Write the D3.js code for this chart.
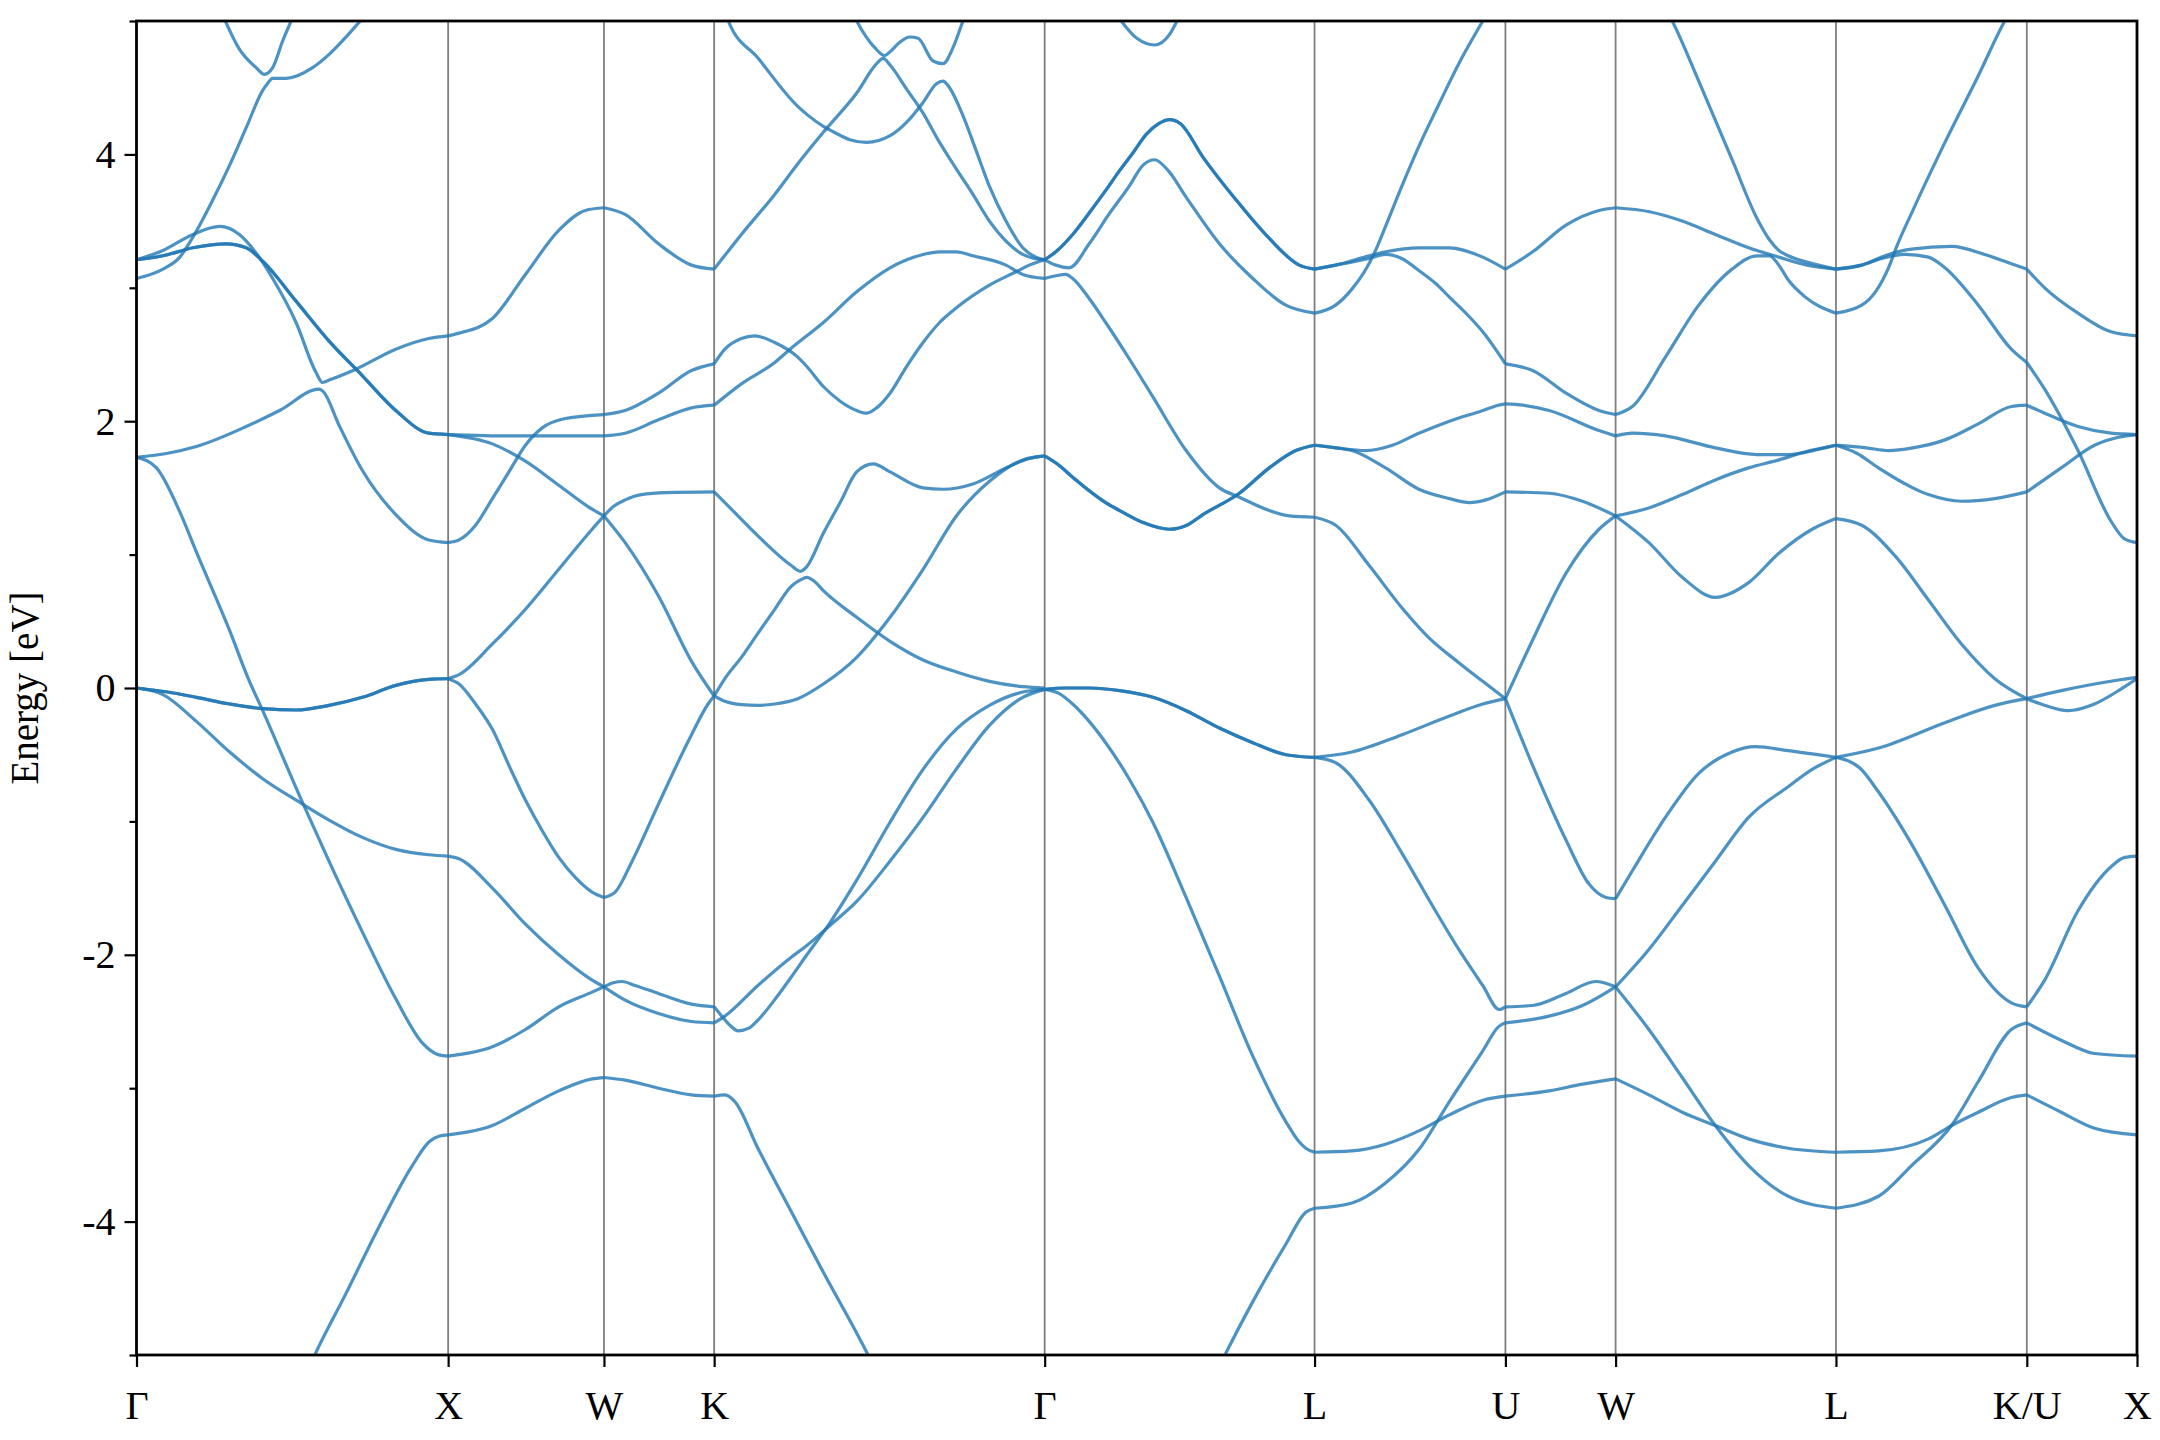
<!DOCTYPE html>
<html><head><meta charset="utf-8">
<script src="https://cdn.jsdelivr.net/npm/d3@7"></script>
<style>body{margin:0;background:#fff}</style>
</head><body>
<svg id="chart" width="2160" height="1440"></svg>
<script>
// ---------- data ----------
const kLabels = ["Γ","X","W","K","Γ","L","U","W","L","K/U","X"];
const kTicks  = [0, 1, 1.5, 1.8536, 2.9142, 3.7802, 4.3926, 4.7462, 5.4533, 6.0657, 6.4193];
const yMajor  = [-4, -2, 0, 2, 4];
const yMinor  = [-5, -3, -1, 1, 3, 5];
const yLabel  = "Energy [eV]";

// bands, per path segment: each band is a list of [k, E(eV)]
const segGX = [
  [[0,1.73],[0.064,1.65],[0.139,1.32],[0.192,1.02],[0.299,0.43],[0.357,0.08],[0.405,-0.17],[0.533,-0.86],[0.618,-1.30],[0.725,-1.83],[0.832,-2.33],[0.917,-2.66],[0.97,-2.75],[1,-2.76]],
  [[0,0],[0.085,-0.05],[0.192,-0.25],[0.299,-0.48],[0.405,-0.68],[0.533,-0.87],[0.618,-0.99],[0.725,-1.12],[0.832,-1.21],[0.938,-1.25],[1,-1.26]],
  [[0,1.73],[0.1,1.76],[0.192,1.81],[0.352,1.96],[0.459,2.08],[0.586,2.24],[0.6,2.22],[0.65,1.97],[0.725,1.63],[0.832,1.30],[0.938,1.11],[1,1.09]],
  [[0,3.21],[0.085,3.28],[0.181,3.40],[0.267,3.46],[0.33,3.40],[0.384,3.26],[0.437,3.07],[0.512,2.74],[0.575,2.37],[0.597,2.29],[0.62,2.31],[0.704,2.39],[0.832,2.54],[0.938,2.62],[1,2.64]],
  [[0,3.07],[0.085,3.14],[0.139,3.23],[0.181,3.38],[0.245,3.66],[0.299,3.92],[0.352,4.2],[0.405,4.48],[0.42,4.53],[0.437,4.57],[0.48,4.57],[0.565,4.65],[0.618,4.75],[0.68,4.9],[0.725,5.02],[0.76,5.12]],
  [[0.27,5.08],[0.33,4.79],[0.384,4.65],[0.41,4.60],[0.437,4.65],[0.469,4.85],[0.496,5.0],[0.51,5.08]],
  [[0.56,-5.06],[0.576,-4.98],[0.672,-4.54],[0.778,-4.04],[0.885,-3.58],[0.94,-3.40],[0.97,-3.36],[1,-3.35]]
];
const dblGX = [
  [[0,0],[0.1,-0.03],[0.192,-0.07],[0.299,-0.12],[0.405,-0.155],[0.512,-0.165],[0.618,-0.13],[0.725,-0.07],[0.832,0.02],[0.938,0.065],[1,0.07]],
  [[0,3.21],[0.085,3.24],[0.181,3.30],[0.288,3.33],[0.352,3.30],[0.405,3.2],[0.512,2.9],[0.618,2.6],[0.725,2.34],[0.832,2.08],[0.938,1.91],[1,1.9]]
];
const segXW = [
  [[1,2.64],[1.035,2.66],[1.142,2.77],[1.248,3.10],[1.355,3.43],[1.44,3.58],[1.5,3.60]],
  [[1,1.9],[1.2,1.89],[1.4,1.89],[1.5,1.89]],
  [[1,1.9],[1.142,1.83],[1.248,1.70],[1.355,1.52],[1.462,1.34],[1.5,1.29]],
  [[1,1.09],[1.035,1.11],[1.088,1.22],[1.142,1.42],[1.195,1.62],[1.248,1.82],[1.302,1.95],[1.376,2.02],[1.5,2.05]],
  [[1,0.07],[1.035,0.10],[1.142,0.33],[1.248,0.59],[1.355,0.89],[1.462,1.19],[1.5,1.29]],
  [[1,0.07],[1.035,0.03],[1.088,-0.12],[1.142,-0.31],[1.195,-0.58],[1.248,-0.84],[1.302,-1.07],[1.355,-1.27],[1.408,-1.42],[1.462,-1.53],[1.5,-1.57]],
  [[1,-1.26],[1.035,-1.28],[1.142,-1.50],[1.248,-1.77],[1.355,-2.0],[1.462,-2.19],[1.5,-2.24]],
  [[1,-2.76],[1.142,-2.69],[1.248,-2.56],[1.355,-2.39],[1.462,-2.28],[1.5,-2.24]],
  [[1,-3.35],[1.142,-3.28],[1.248,-3.15],[1.355,-3.02],[1.462,-2.93],[1.5,-2.92]]
];
const segWK = [
  [[1.5,3.60],[1.568,3.55],[1.675,3.33],[1.781,3.17],[1.8536,3.14]],
  [[1.5,2.05],[1.568,2.08],[1.675,2.21],[1.781,2.38],[1.8536,2.43]],
  [[1.5,1.89],[1.568,1.91],[1.675,2.01],[1.781,2.10],[1.8536,2.12]],
  [[1.5,1.29],[1.53,1.36],[1.568,1.41],[1.62,1.45],[1.7,1.465],[1.8536,1.47]],
  [[1.5,1.29],[1.568,1.09],[1.675,0.69],[1.781,0.20],[1.8536,-0.06]],
  [[1.5,-1.57],[1.536,-1.53],[1.59,-1.30],[1.675,-0.87],[1.781,-0.35],[1.834,-0.12],[1.8536,-0.06]],
  [[1.5,-2.24],[1.53,-2.21],[1.558,-2.20],[1.6,-2.23],[1.675,-2.29],[1.781,-2.37],[1.8536,-2.39]],
  [[1.5,-2.24],[1.568,-2.34],[1.675,-2.44],[1.781,-2.50],[1.8536,-2.51]],
  [[1.5,-2.92],[1.568,-2.94],[1.675,-3.0],[1.781,-3.05],[1.8536,-3.06]]
];
const segKG = [
  [[1.8536,3.14],[1.941,3.40],[2.048,3.70],[2.122,3.93],[2.209,4.18],[2.311,4.46],[2.375,4.68],[2.396,4.72],[2.418,4.67],[2.471,4.49],[2.524,4.31],[2.577,4.09],[2.631,3.89],[2.684,3.70],[2.737,3.50],[2.79,3.35],[2.844,3.25],[2.88,3.22],[2.9142,3.21]],
  [[1.895,5.08],[1.899,5.0],[1.995,4.72],[2.122,4.36],[2.151,4.30],[2.204,4.21],[2.236,4.17],[2.289,4.11],[2.343,4.09],[2.418,4.14],[2.471,4.24],[2.524,4.39],[2.567,4.53],[2.588,4.55],[2.609,4.50],[2.652,4.29],[2.694,4.03],[2.737,3.76],[2.79,3.50],[2.844,3.30],[2.886,3.23],[2.9142,3.21]],
  [[2.30,5.05],[2.311,5.0],[2.369,4.80],[2.401,4.74],[2.418,4.77],[2.449,4.84],[2.481,4.88],[2.508,4.87],[2.556,4.70],[2.588,4.68],[2.62,4.8],[2.652,5.0],[2.66,5.05]],
  [[1.8536,2.43],[1.888,2.54],[1.941,2.62],[1.984,2.64],[2.048,2.59],[2.122,2.48],[2.151,2.41],[2.204,2.26],[2.258,2.15],[2.311,2.08],[2.343,2.06],[2.375,2.10],[2.418,2.21],[2.471,2.41],[2.524,2.59],[2.577,2.74],[2.631,2.85],[2.737,3.02],[2.822,3.12],[2.865,3.17],[2.9142,3.21]],
  [[1.8536,2.12],[1.941,2.28],[2.048,2.44],[2.097,2.54],[2.204,2.74],[2.311,2.97],[2.418,3.15],[2.524,3.25],[2.577,3.27],[2.631,3.27],[2.684,3.24],[2.79,3.17],[2.844,3.10],[2.9142,3.07]],
  [[1.8536,1.47],[1.888,1.39],[1.994,1.14],[2.1,0.92],[2.13,0.875],[2.151,0.91],[2.204,1.16],[2.258,1.39],[2.311,1.62],[2.364,1.68],[2.418,1.62],[2.524,1.50],[2.588,1.49],[2.684,1.53],[2.79,1.65],[2.865,1.72],[2.9142,1.74]],
  [[1.8536,-0.06],[1.888,0.07],[1.941,0.23],[1.994,0.41],[2.048,0.59],[2.1,0.76],[2.13,0.81],[2.151,0.83],[2.175,0.80],[2.204,0.73],[2.311,0.53],[2.418,0.35],[2.524,0.21],[2.631,0.12],[2.737,0.05],[2.844,0.01],[2.9142,0.0]],
  [[1.8536,-0.06],[1.888,-0.10],[1.941,-0.125],[1.994,-0.13],[2.048,-0.12],[2.122,-0.08],[2.204,0.03],[2.311,0.23],[2.418,0.53],[2.524,0.89],[2.631,1.29],[2.737,1.55],[2.844,1.71],[2.9142,1.74]],
  [[1.8536,-2.39],[1.878,-2.46],[1.905,-2.53],[1.931,-2.57],[1.965,-2.55],[1.994,-2.49],[2.05,-2.33],[2.1,-2.17],[2.151,-2.0],[2.225,-1.76],[2.311,-1.44],[2.417,-1.01],[2.524,-0.61],[2.63,-0.31],[2.737,-0.13],[2.844,-0.03],[2.9142,-0.01]],
  [[1.8536,-2.51],[1.888,-2.46],[1.994,-2.23],[2.1,-2.02],[2.151,-1.93],[2.225,-1.78],[2.311,-1.60],[2.417,-1.30],[2.524,-0.97],[2.63,-0.61],[2.737,-0.28],[2.844,-0.07],[2.9142,-0.01]],
  [[1.8536,-3.06],[1.888,-3.05],[1.92,-3.10],[1.994,-3.45],[2.1,-3.92],[2.204,-4.38],[2.343,-4.98],[2.36,-5.06]]
];
const segGL = [
  [[2.9142,3.21],[2.95,3.17],[2.993,3.15],[3.057,3.33],[3.12,3.55],[3.185,3.76],[3.23,3.92],[3.267,3.96],[3.31,3.88],[3.368,3.68],[3.475,3.33],[3.582,3.07],[3.688,2.87],[3.7802,2.81]],
  [[2.9142,3.07],[2.95,3.09],[2.982,3.10],[3.004,3.07],[3.057,2.92],[3.11,2.74],[3.185,2.47],[3.262,2.18],[3.368,1.78],[3.475,1.50],[3.539,1.43],[3.635,1.33],[3.7,1.29],[3.7802,1.28]],
  [[2.9142,-0.01],[2.96,-0.04],[3.004,-0.12],[3.057,-0.25],[3.11,-0.41],[3.185,-0.68],[3.262,-1.01],[3.368,-1.57],[3.475,-2.16],[3.582,-2.76],[3.688,-3.25],[3.73,-3.40],[3.752,-3.45],[3.7802,-3.48]],
  [[3.48,-5.06],[3.497,-4.98],[3.582,-4.60],[3.688,-4.17],[3.752,-3.93],[3.7802,-3.90]],
  [[3.15,5.03],[3.21,4.87],[3.267,4.82],[3.315,4.90],[3.345,5.03]]
];
const dblGL = [
  [[2.9142,3.21],[2.95,3.27],[3.004,3.40],[3.06,3.57],[3.11,3.73],[3.155,3.88],[3.2,4.02],[3.24,4.15],[3.28,4.23],[3.315,4.26],[3.35,4.23],[3.422,3.98],[3.528,3.66],[3.635,3.37],[3.731,3.17],[3.7802,3.14]],
  [[2.9142,1.74],[2.96,1.67],[3.004,1.58],[3.11,1.39],[3.155,1.33],[3.23,1.24],[3.315,1.19],[3.37,1.22],[3.422,1.30],[3.539,1.46],[3.635,1.65],[3.72,1.78],[3.7802,1.82]],
  [[2.9142,-0.01],[2.98,0.0],[3.06,0.0],[3.155,-0.02],[3.262,-0.07],[3.368,-0.17],[3.475,-0.30],[3.582,-0.41],[3.688,-0.50],[3.7802,-0.52]]
];
const segLU = [
  [[3.7802,3.14],[3.848,3.17],[3.955,3.24],[4.008,3.27],[4.115,3.30],[4.213,3.30],[4.32,3.23],[4.3926,3.14]],
  [[3.7802,3.14],[3.848,3.17],[3.955,3.22],[4.008,3.25],[4.06,3.22],[4.115,3.13],[4.17,3.03],[4.213,2.93],[4.27,2.80],[4.32,2.67],[4.3926,2.43]],
  [[3.7802,2.81],[3.848,2.87],[3.9,2.99],[3.94,3.12],[3.97,3.25],[4.008,3.46],[4.06,3.76],[4.115,4.06],[4.18,4.38],[4.243,4.68],[4.32,5.0],[4.345,5.1]],
  [[3.7802,1.82],[3.85,1.80],[3.944,1.78],[4.03,1.82],[4.115,1.91],[4.213,2.0],[4.32,2.08],[4.37,2.12],[4.3926,2.13]],
  [[3.7802,1.82],[3.848,1.80],[3.9,1.78],[4.008,1.65],[4.115,1.49],[4.213,1.42],[4.277,1.39],[4.33,1.41],[4.3926,1.47]],
  [[3.7802,1.28],[3.848,1.22],[3.955,0.92],[4.061,0.60],[4.15,0.37],[4.243,0.19],[4.32,0.05],[4.3926,-0.08]],
  [[3.7802,-0.52],[3.9,-0.48],[4.061,-0.35],[4.213,-0.21],[4.32,-0.12],[4.3926,-0.08]],
  [[3.7802,-0.52],[3.848,-0.56],[3.955,-0.84],[4.061,-1.24],[4.168,-1.67],[4.243,-1.96],[4.32,-2.23],[4.373,-2.41],[4.3926,-2.39]],
  [[3.7802,-3.48],[3.9,-3.47],[4.008,-3.42],[4.115,-3.32],[4.213,-3.20],[4.32,-3.09],[4.3926,-3.06]],
  [[3.7802,-3.90],[3.9,-3.86],[4.008,-3.71],[4.115,-3.46],[4.213,-3.10],[4.32,-2.72],[4.37,-2.54],[4.3926,-2.51]]
];
const segUW = [
  [[4.3926,3.14],[4.48,3.27],[4.587,3.47],[4.693,3.58],[4.7462,3.60]],
  [[4.3926,2.43],[4.48,2.38],[4.587,2.21],[4.693,2.08],[4.7462,2.05]],
  [[4.3926,2.13],[4.45,2.12],[4.533,2.08],[4.693,1.93],[4.7462,1.89]],
  [[4.3926,1.47],[4.533,1.46],[4.64,1.40],[4.7462,1.29]],
  [[4.3926,-0.08],[4.48,0.36],[4.587,0.86],[4.693,1.19],[4.7462,1.29]],
  [[4.3926,-0.08],[4.48,-0.58],[4.587,-1.14],[4.661,-1.47],[4.715,-1.57],[4.7462,-1.58]],
  [[4.3926,-2.39],[4.48,-2.38],[4.587,-2.29],[4.682,-2.20],[4.7462,-2.24]],
  [[4.3926,-2.51],[4.533,-2.46],[4.64,-2.38],[4.7462,-2.24]],
  [[4.3926,-3.06],[4.533,-3.02],[4.64,-2.97],[4.7462,-2.93]]
];
const segWL = [
  [[4.7462,3.60],[4.855,3.57],[4.96,3.50],[5.066,3.40],[5.173,3.30],[5.27,3.23],[5.36,3.17],[5.4533,3.14]],
  [[4.91,5.08],[4.928,5.0],[5.013,4.55],[5.12,3.96],[5.2,3.52],[5.24,3.36],[5.27,3.28],[5.3,3.24],[5.38,3.18],[5.4533,3.14]],
  [[4.7462,2.05],[4.8,2.11],[4.906,2.48],[5.013,2.87],[5.12,3.14],[5.2,3.24],[5.24,3.24],[5.27,3.17],[5.3,3.06],[5.355,2.93],[5.4533,2.81]],
  [[4.7462,1.89],[4.8,1.91],[4.906,1.89],[5.066,1.80],[5.2,1.75],[5.3,1.75],[5.4,1.79],[5.4533,1.82]],
  [[4.7462,1.29],[4.853,1.35],[4.96,1.45],[5.066,1.56],[5.173,1.65],[5.27,1.71],[5.37,1.78],[5.4533,1.82]],
  [[4.7462,1.29],[4.853,1.09],[4.96,0.83],[5.066,0.68],[5.173,0.79],[5.27,1.01],[5.377,1.19],[5.4533,1.27]],
  [[4.7462,-1.58],[4.8,-1.37],[4.906,-0.97],[5.013,-0.64],[5.12,-0.48],[5.194,-0.44],[5.3,-0.47],[5.4533,-0.52]],
  [[4.7462,-2.24],[4.853,-1.96],[4.96,-1.63],[5.066,-1.30],[5.173,-0.97],[5.3,-0.74],[5.377,-0.61],[5.4533,-0.52]],
  [[4.7462,-2.24],[4.853,-2.56],[4.96,-2.92],[5.066,-3.28],[5.173,-3.58],[5.3,-3.81],[5.4533,-3.90]],
  [[4.7462,-2.93],[4.853,-3.05],[4.96,-3.18],[5.066,-3.28],[5.173,-3.38],[5.3,-3.45],[5.4533,-3.48]]
];
const segLK = [
  [[5.4533,3.14],[5.536,3.17],[5.622,3.25],[5.696,3.29],[5.824,3.31],[5.931,3.25],[6.016,3.18],[6.0657,3.14]],
  [[5.4533,3.14],[5.536,3.17],[5.6,3.22],[5.675,3.25],[5.75,3.23],[5.803,3.15],[5.91,2.87],[6.016,2.54],[6.0657,2.44]],
  [[5.4533,2.81],[5.536,2.87],[5.58,2.97],[5.622,3.15],[5.65,3.32],[5.696,3.56],[5.803,4.09],[5.91,4.59],[5.995,5.0],[6.02,5.1]],
  [[5.4533,1.82],[5.55,1.80],[5.622,1.78],[5.7,1.80],[5.803,1.86],[5.91,1.98],[6.016,2.11],[6.0657,2.12]],
  [[5.4533,1.82],[5.52,1.76],[5.59,1.65],[5.75,1.45],[5.856,1.40],[5.963,1.42],[6.0657,1.47]],
  [[5.4533,1.27],[5.536,1.22],[5.643,0.99],[5.75,0.66],[5.856,0.33],[5.963,0.07],[6.0657,-0.08]],
  [[5.4533,-0.52],[5.59,-0.45],[5.803,-0.26],[5.963,-0.13],[6.0657,-0.08]],
  [[5.4533,-0.52],[5.53,-0.60],[5.59,-0.78],[5.696,-1.17],[5.803,-1.63],[5.91,-2.10],[6.016,-2.36],[6.0657,-2.39]],
  [[5.4533,-3.48],[5.59,-3.47],[5.75,-3.38],[5.824,-3.28],[5.91,-3.18],[6.016,-3.07],[6.0657,-3.05]],
  [[5.4533,-3.90],[5.59,-3.81],[5.696,-3.58],[5.824,-3.28],[5.91,-2.95],[6.016,-2.56],[6.0657,-2.51]]
];
const segUX = [
  [[6.0657,3.14],[6.123,3.0],[6.23,2.81],[6.336,2.67],[6.4193,2.64]],
  [[6.0657,2.44],[6.123,2.24],[6.23,1.78],[6.336,1.25],[6.378,1.12],[6.4193,1.09]],
  [[6.0657,2.12],[6.123,2.06],[6.23,1.96],[6.336,1.91],[6.4193,1.90]],
  [[6.0657,1.47],[6.176,1.65],[6.283,1.82],[6.36,1.88],[6.4193,1.90]],
  [[6.0657,-0.08],[6.176,-0.02],[6.283,0.03],[6.36,0.06],[6.4193,0.08]],
  [[6.0657,-0.08],[6.123,-0.13],[6.197,-0.17],[6.283,-0.12],[6.36,-0.02],[6.4193,0.07]],
  [[6.0657,-2.39],[6.123,-2.19],[6.23,-1.67],[6.336,-1.34],[6.38,-1.27],[6.4193,-1.26]],
  [[6.0657,-2.51],[6.176,-2.64],[6.283,-2.74],[6.4193,-2.76]],
  [[6.0657,-3.05],[6.176,-3.18],[6.283,-3.30],[6.4193,-3.35]]
];

// ---------- drawing ----------
const W = 2160, H = 1440;
const m = {left: 136.5, right: 2137, top: 21, bottom: 1355};
const x = d3.scaleLinear().domain([kTicks[0], kTicks[kTicks.length-1]]).range([m.left, m.right]);
const y = d3.scaleLinear().domain([-5, 5]).range([m.bottom, m.top]);
const svg = d3.select("#chart");
svg.append("rect").attr("width", W).attr("height", H).attr("fill", "#fff");

svg.append("clipPath").attr("id", "plotclip").append("rect")
  .attr("x", m.left).attr("y", m.top).attr("width", m.right - m.left).attr("height", m.bottom - m.top);

// vertical high-symmetry lines
svg.append("g").selectAll("line").data(kTicks.slice(1, -1)).join("line")
  .attr("x1", d => x(d)).attr("x2", d => x(d)).attr("y1", m.top).attr("y2", m.bottom)
  .attr("stroke", "#7f7f7f").attr("stroke-width", 1.8);

const line = d3.line().x(d => x(d[0])).y(d => y(d[1])).curve(d3.curveMonotoneX);
const allBands = [].concat(segGX, dblGX, dblGX, segXW, segWK, segKG, segGL, dblGL, dblGL,
                           segLU, segUW, segWL, segLK, segUX);
svg.append("g").attr("clip-path", "url(#plotclip)")
  .selectAll("path").data(allBands).join("path")
  .attr("d", line).attr("fill", "none")
  .attr("stroke", "#1f77b4").attr("stroke-opacity", 0.8)
  .attr("stroke-width", 3.2).attr("stroke-linejoin", "round").attr("stroke-linecap", "butt");

const font = "'Liberation Serif', 'Times New Roman', serif";
// y axis
const gy = svg.append("g").attr("transform", `translate(${m.left},0)`)
  .call(d3.axisLeft(y).tickValues(yMajor).tickSize(12).tickPadding(9).tickFormat(d => String(d)));
const gyMinor = svg.append("g").attr("transform", `translate(${m.left},0)`)
  .call(d3.axisLeft(y).tickValues(yMinor).tickSize(7).tickFormat(""));
// x axis
const gx = svg.append("g").attr("transform", `translate(0,${m.bottom})`)
  .call(d3.axisBottom(x).tickValues(kTicks).tickSize(12).tickPadding(24).tickFormat((d, i) => kLabels[i]));
[gy, gyMinor, gx].forEach(g => {
  g.select(".domain").remove();
  g.selectAll(".tick line").attr("stroke", "#000").attr("stroke-width", 2.2);
  g.selectAll("text").attr("fill", "#000").style("font-family", font).style("font-size", "40px");
});

// frame
svg.append("rect").attr("x", m.left).attr("y", m.top)
  .attr("width", m.right - m.left).attr("height", m.bottom - m.top)
  .attr("fill", "none").attr("stroke", "#000").attr("stroke-width", 2.8);

// y label
svg.append("text").attr("transform", `translate(24,${(m.top + m.bottom) / 2}) rotate(-90)`)
  .attr("text-anchor", "middle").attr("dominant-baseline", "central")
  .style("font-family", font).style("font-size", "39px").text(yLabel);
</script>
</body></html>
